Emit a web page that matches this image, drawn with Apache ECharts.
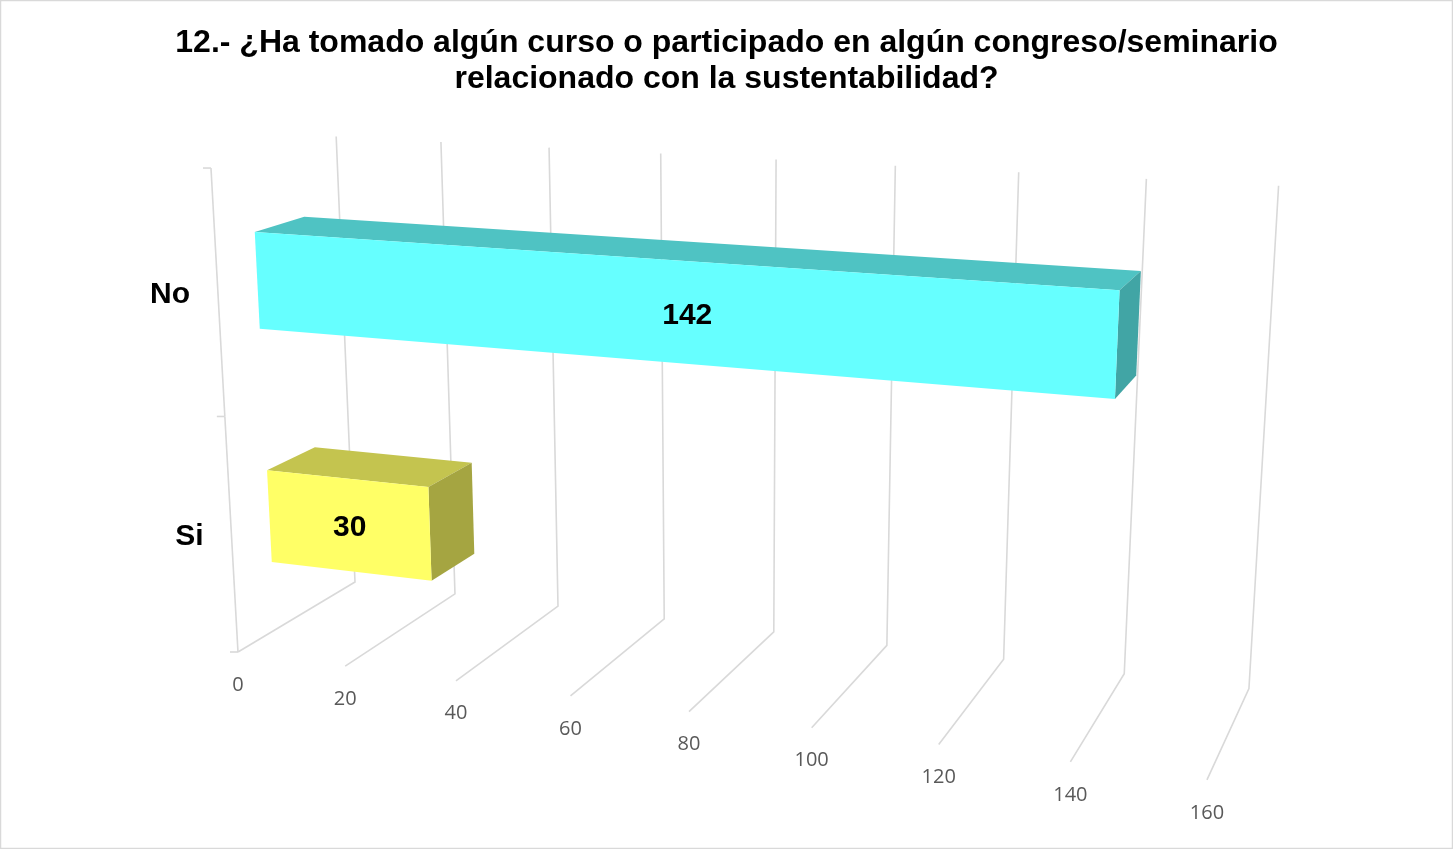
<!DOCTYPE html>
<html>
<head>
<meta charset="utf-8">
<title>Cursos y congresos sobre sustentabilidad</title>
<script src="https://cdn.jsdelivr.net/npm/echarts@6/dist/echarts.min.js"></script>
<style>
  html, body { margin: 0; padding: 0; background: #ffffff; }
  #chart { width: 1453px; height: 849px; }
</style>
</head>
<body>
<div id="chart"></div>
<script>
// ---- data ----
const titleLines = [
  '12.- ¿Ha tomado algún curso o participado en algún congreso/seminario',
  'relacionado con la sustentabilidad?'
];
const categories = ['Si', 'No'];
const values = [30, 142];
const valueTicks = [0, 20, 40, 60, 80, 100, 120, 140, 160];
const axisMin = 0;
const axisMax = 160;
const axisStep = 20;

// ---- styles ----
const faceColors = [
  { front: '#FFFF66', top: '#C4C44F', side: '#A5A541' },
  { front: '#66FFFF', top: '#4FC3C3', side: '#41A5A5' }
];
const gridColor = '#D9D9D9';
const barDepth = [0.3, 0.7];     // front and back of each bar inside the box depth
const barFill = 0.4;             // bar thickness as a share of its category band

// Perspective view of the unit box (x: value, y: height, z: depth) on the canvas.
const view = {
  u: [812.9, -38.0, 148.95, 238],
  v: [27.1, -492.7, -17.6, 652],
  w: [-0.1293, -0.052, 0.09, 1]
};
function project(x, y, z) {
  const w = view.w[0] * x + view.w[1] * y + view.w[2] * z + view.w[3];
  return [
    (view.u[0] * x + view.u[1] * y + view.u[2] * z + view.u[3]) / w,
    (view.v[0] * x + view.v[1] * y + view.v[2] * z + view.v[3]) / w
  ];
}
// Data point -> unit box coordinates, through the cartesian scales.
function toUnit(params, api, value, catIndex) {
  const r = params.coordSys;
  const p = api.coord([value, catIndex]);
  return [(p[0] - r.x) / r.width, (r.y + r.height - p[1]) / r.height];
}

const chart = echarts.init(document.getElementById('chart'), null, { renderer: 'canvas' });

const option = {
  animation: false,
  backgroundColor: '#ffffff',
  title: {
    text: titleLines.join('\n'),
    left: 'center',
    top: 20,
    textStyle: {
      fontFamily: 'Liberation Sans, Arial, sans-serif',
      fontSize: 32,
      fontWeight: 'bold',
      lineHeight: 36,
      color: '#000000'
    }
  },
  graphic: [{
    type: 'rect',
    silent: true,
    shape: { x: 0.5, y: 0.5, width: 1452, height: 848 },
    style: { fill: null, stroke: '#D9D9D9', lineWidth: 1.5 }
  }],
  grid: { left: 100, right: 100, top: 100, bottom: 100 },
  xAxis: { type: 'value', min: axisMin, max: axisMax, interval: axisStep, show: false },
  yAxis: { type: 'category', data: categories, show: false },
  series: [
    {
      // value gridlines: along the floor, then up the back wall, with the tick label
      type: 'custom',
      name: 'grid',
      coordinateSystem: 'cartesian2d',
      clip: false,
      z: 1,
      silent: true,
      data: valueTicks.map(v => [v, 0]),
      renderItem(params, api) {
        const v = api.value(0);
        const x = toUnit(params, api, v, 0)[0];
        const f = project(x, 0, 0);
        const b = project(x, 0, 1);
        const t = project(x, 1, 1);
        return {
          type: 'group',
          children: [
            {
              type: 'polyline',
              shape: { points: [f, b, t] },
              style: { stroke: gridColor, lineWidth: 1.6, fill: null }
            },
            {
              type: 'text',
              x: f[0],
              y: f[1] + 33,
              style: {
                text: String(v),
                align: 'center',
                verticalAlign: 'middle',
                fontFamily: 'Open Sans, sans-serif',
                fontSize: 20,
                fill: '#595959'
              }
            }
          ]
        };
      }
    },
    {
      // category axis on the front left edge, with its ticks and labels
      type: 'custom',
      name: 'categoryAxis',
      coordinateSystem: 'cartesian2d',
      clip: false,
      z: 2,
      silent: true,
      data: categories.map((c, i) => [axisMin, i]),
      renderItem(params, api) {
        const i = api.value(1);
        const yc = toUnit(params, api, axisMin, i)[1];
        const band = api.size([0, 1])[1] / params.coordSys.height;
        const lo = project(0, yc - band / 2, 0);
        const hi = project(0, yc + band / 2, 0);
        const mid = project(0, yc, 0);
        const children = [
          { type: 'line', shape: { x1: lo[0], y1: lo[1], x2: hi[0], y2: hi[1] },
            style: { stroke: gridColor, lineWidth: 1.6 } },
          { type: 'line', shape: { x1: lo[0] - 8, y1: lo[1], x2: lo[0], y2: lo[1] },
            style: { stroke: gridColor, lineWidth: 1.6 } },
          {
            type: 'text',
            x: mid[0] - 28,
            y: mid[1] + 1,
            style: {
              text: categories[i],
              align: 'right',
              verticalAlign: 'middle',
              fontFamily: 'Liberation Sans, Arial, sans-serif',
              fontSize: 30,
              fontWeight: 'bold',
              fill: '#000000'
            }
          }
        ];
        if (i === categories.length - 1) {
          children.push({ type: 'line', shape: { x1: hi[0] - 8, y1: hi[1], x2: hi[0], y2: hi[1] },
            style: { stroke: gridColor, lineWidth: 1.6 } });
        }
        return { type: 'group', children };
      }
    },
    {
      // 3D bars: top, end and front faces plus the value label
      type: 'custom',
      name: 'Respuestas',
      coordinateSystem: 'cartesian2d',
      clip: false,
      z: 3,
      data: values.map((v, i) => [v, i]),
      renderItem(params, api) {
        const i = api.value(1);
        const v = api.value(0);
        const x0 = toUnit(params, api, axisMin, i)[0];
        const [x1, yc] = toUnit(params, api, v, i);
        const band = api.size([0, 1])[1] / params.coordSys.height;
        const h = band * barFill;
        const y0 = yc - h / 2, y1 = yc + h / 2;
        const z0 = barDepth[0], z1 = barDepth[1];
        const c = faceColors[i];
        const front = [project(x0, y0, z0), project(x1, y0, z0), project(x1, y1, z0), project(x0, y1, z0)];
        const top = [project(x0, y1, z0), project(x1, y1, z0), project(x1, y1, z1), project(x0, y1, z1)];
        const side = [project(x1, y0, z0), project(x1, y0, z1), project(x1, y1, z1), project(x1, y1, z0)];
        const cx = front.reduce((s, p) => s + p[0], 0) / 4;
        const cy = front.reduce((s, p) => s + p[1], 0) / 4;
        return {
          type: 'group',
          children: [
            { type: 'polygon', shape: { points: top }, style: { fill: c.top } },
            { type: 'polygon', shape: { points: side }, style: { fill: c.side } },
            { type: 'polygon', shape: { points: front }, style: { fill: c.front } },
            {
              type: 'text',
              x: cx,
              y: cy + 3,
              style: {
                text: String(v),
                align: 'center',
                verticalAlign: 'middle',
                fontFamily: 'Liberation Sans, Arial, sans-serif',
                fontSize: 30,
                fontWeight: 'bold',
                fill: '#000000'
              }
            }
          ]
        };
      }
    }
  ]
};

chart.setOption(option);
</script>
</body>
</html>
